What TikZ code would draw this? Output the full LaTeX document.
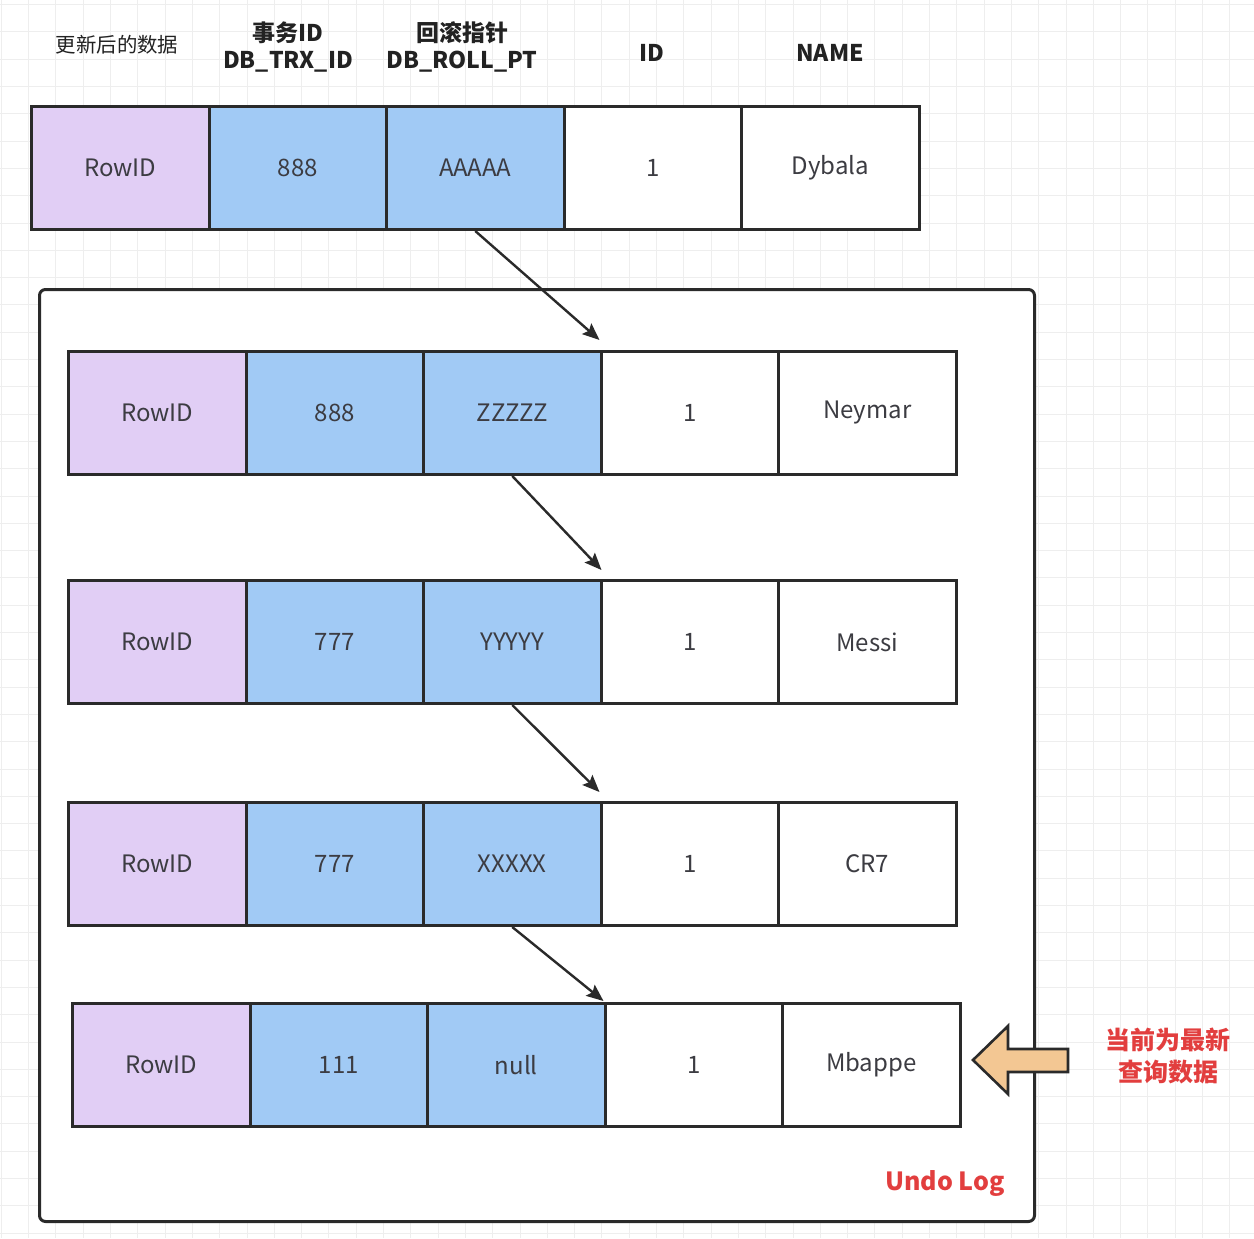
\documentclass[tikz,border=0pt]{standalone}
\usepackage{fontspec}
\setmainfont{Noto Sans CJK SC}
\usetikzlibrary{arrows.meta}
\definecolor{cpurple}{RGB}{225,206,245}
\definecolor{cblue}{RGB}{161,202,245}
\definecolor{cborder}{RGB}{42,42,42}
\definecolor{ctext}{RGB}{60,60,66}
\definecolor{chead}{RGB}{34,34,34}
\definecolor{cred}{RGB}{226,62,62}
\definecolor{corange}{RGB}{243,199,147}
\definecolor{cgrid}{RGB}{238,238,238}
\tikzset{
  cell/.style={draw=cborder, line width=1.5pt, anchor=north west, inner sep=0pt,
    minimum width=88.75pt, minimum height=61.5pt, text=ctext, font=\fontsize{12}{14}\selectfont},
  pcell/.style={cell, fill=cpurple},
  bcell/.style={cell, fill=cblue},
  wcell/.style={cell, fill=white},
  head/.style={align=center, text=chead, font=\fontsize{11.5}{13.5}\selectfont\bfseries},
  link/.style={draw=cborder, line width=1.2pt, -{Stealth[length=8.5pt,width=7pt,inset=1.5pt]}},
  redtext/.style={text=cred, font=\fontsize{12.5}{16}\selectfont\bfseries, align=center},
}
\newcommand{\datarow}[6]{%
  \node[pcell] (#1a) at (#2,#3) {RowID};
  \node[bcell] (#1b) at ({#2+177.5},#3) {#4};
  \node[bcell] (#1c) at ({#2+355},#3) {#5};
  \node[wcell] (#1d) at ({#2+532.5},#3) {1};
  \node[wcell] (#1e) at ({#2+710},#3) {#6};
}
\begin{document}
\begin{tikzpicture}[x=0.5pt,y=-0.5pt]
\useasboundingbox (0,0) rectangle (1254,1238);
\fill[white] (0,0) rectangle (1254,1238);
% grid
\foreach \i in {0,...,45} {
  \draw[cgrid, line width=0.5pt] ({1.3+27.3*\i},0) -- ({1.3+27.3*\i},1238);
  \draw[cgrid, line width=0.5pt] (0,{4.6+27.3*\i}) -- (1254,{4.6+27.3*\i});
}
% undo log container
\node[draw=cborder, fill=white, line width=1.5pt, rounded corners=3pt, anchor=north west,
  minimum width=497.5pt, minimum height=466pt, inner sep=0pt] (undo) at (38,288) {};
\node[text=cred, font=\fontsize{12.5}{15}\selectfont\bfseries] (undolbl) at (945,1183) {Undo Log};
% headers
\node[head, font=\fontsize{10.2}{13}\selectfont] (h1) at (117,45) {更新后的数据};
\node[head] (h2) at (288,47) {事务ID\\DB\_TRX\_ID};
\node[head] (h3) at (462,47) {回滚指针\\DB\_ROLL\_PT};
\node[head] (h4) at (652,53) {ID};
\node[head] (h5) at (830,53) {NAME};
% rows
\datarow{ra}{30}{105}{888}{AAAAA}{Dybala}
\datarow{rb}{67}{350}{888}{ZZZZZ}{Neymar}
\datarow{rc}{67}{579}{777}{YYYYY}{Messi}
\datarow{rd}{67}{801}{777}{XXXXX}{CR7}
\datarow{re}{71}{1002}{111}{null}{Mbappe}
% links
\draw[link] (rac.south) -- ([yshift=5pt]rbd.north west);
\draw[link] (rbc.south) -- ([xshift=1pt,yshift=4.5pt]rcd.north west);
\draw[link] (rcc.south) -- ([yshift=4.5pt]rdd.north west);
\draw[link] (rdc.south) -- ([yshift=0.5pt]red.north west);
% big arrow
\draw[draw=cborder, fill=corange, line width=1.3pt, line join=miter]
  (973,1060) -- (1008,1026) -- (1008,1049) -- (1068,1049) -- (1068,1072)
  -- (1008,1072) -- (1008,1094) -- cycle;
\node[redtext] (note) at (1168,1056) {当前为最新\\查询数据};
\end{tikzpicture}
\end{document}
